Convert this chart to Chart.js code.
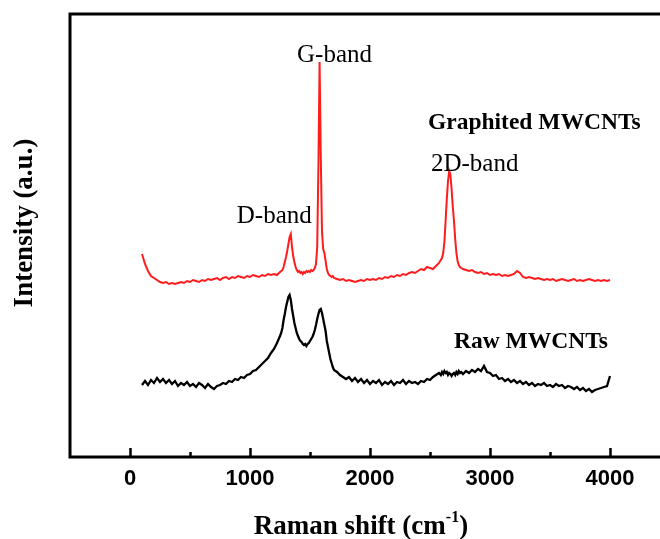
<!DOCTYPE html>
<html>
<head>
<meta charset="utf-8">
<script src="https://cdn.jsdelivr.net/npm/chart.js@4.4.0/dist/chart.umd.min.js"></script>
<style>
  html, body { margin: 0; padding: 0; background: #fff; overflow: hidden; }
  #wrap { width: 680px; height: 539px; }
</style>
</head>
<body>
<div id="wrap"><canvas id="raman" width="680" height="539"></canvas></div>
<script>
// ── Data (Raman shift in cm-1, intensity in arbitrary units) ──
const shift = [
  100,125,150,175,200,225,250,275,300,325,350,375,400,425,450,475,500,525,550,575,600,625,650,675,700,725,750,775,800,825,850,875,900,925,950,975,1000,1025,1050,1075,1100,1125,1150,1175,1200,1225,1250,
  1260,1270,1280,1290,1300,1310,1320,1330,1340,1350,1360,1370,1380,1390,1400,1410,1420,1430,1440,1450,1460,1470,1480,1490,1500,1510,1520,1530,1540,1550,1560,1570,1580,1590,1600,1610,1620,1630,1640,1650,1660,1670,1680,1690,1700,
  1725,1750,1775,1800,1825,1850,1875,1900,1925,1950,1975,2000,2025,2050,2075,2100,2125,2150,2175,2200,2225,2250,2275,2300,2325,2350,2375,2400,2425,2450,2475,2500,2525,2550,2575,
  2590,2600,2610,2620,2630,2640,2650,2660,2670,2680,2690,2700,2710,2720,2730,2740,2750,2760,
  2775,2800,2825,2850,2875,2900,2925,2950,2975,3000,3025,3050,3075,3100,3125,3150,3175,3200,3225,3250,3275,3300,3325,3350,3375,3400,3425,3450,3475,3500,3525,3550,3575,3600,3625,3650,3675,3700,3725,3750,3775,3800,3825,3850,3875,3900,3925,3950,3975,4000
];

const graphited = [
  203,193,186,181,179,177,175,174,175,173, 174,173,174,175,174,176,175,177,176,175, 177,176,178,177,178,179,177,179,180,178, 180,179,181,180,179,181,180,182,181,180, 182,181,183,182,183,182,185,
  186,187,190,195,200,206,213,220,223,210, 201,195,190,187,185,186,184,185,183,185, 184,186,185,186,185,187,186,187,189,193, 210,290,395,300,225,208,204,196,188,184, 182,181,180,181,179,
  178,177,178,176,177,176,175,176,177,176, 178,177,178,177,179,178,180,179,181,180, 182,181,183,182,184,185,184,186,188,187, 190,189,188,191,194,
  197,199,204,215,236,258,276,286,282,268, 250,236,218,204,196,192,190,189,
  188,187,186,187,185,184,185,183,184,182, 183,182,183,181,182,181,182,183,186,184, 180,179,180,179,178,179,178,177,178,177, 178,176,177,178,177,176,177,178,176,177, 176,177,178,177,176,177,176,177,176,177
];

const raw = [
  72,76,72,77,74,79,75,78,74,77, 73,76,71,74,72,75,71,73,70,74, 72,69,73,70,68,71,72,74,73,76, 75,78,77,80,79,82,83,86,87,90, 93,96,99,104,108,114,121,
  124,129,137,143,150,155,160,162,157,148, 141,134,129,124,121,118,116,115,113,112, 113,111,113,114,116,118,120,123,127,132, 138,143,147,148,144,138,132,126,116,110, 104,98,94,90,87,
  85,82,80,78,80,76,79,75,78,74, 77,73,76,74,77,72,75,73,76,72, 75,74,77,73,76,74,75,73,76,75, 78,77,80,82,84,
  82,85,83,86,84,85,82,84,83,81, 83,84,82,85,83,86,84,85,
  83,86,84,87,85,88,86,91,85,84, 81,82,78,79,76,78,75,77,74,76, 73,75,72,74,71,73,72,74,71,72, 70,73,71,72,69,71,70,68,70,67, 69,66,68,65,67,68,69,70,71,81
];

// ── Text labels inside the plot (anchored in data units) ──
const bandLabels  = ['D-band', 'G-band', '2D-band'];
const bandAtX     = [890, 1392, 2508];
const bandAtY     = [234, 395, 286];
const sampleNames = ['Graphited MWCNTs', 'Raw MWCNTs'];
const sampleAtX   = [2483, 2700];
const sampleAtY   = [328, 109];

const SERIF = '"Liberation Serif", "Times New Roman", serif';
const SANS  = '"Liberation Sans", Arial, sans-serif';

function pairs(ys) {
  return shift.map((s, i) => ({ x: s, y: ys[i] }));
}

// ── Frame, inward ticks, titles and labels ──
const decor = {
  id: 'decor',
  afterDraw(chart) {
    const { ctx, chartArea: a } = chart;
    const x = chart.scales.x, y = chart.scales.y;
    ctx.save();
    ctx.strokeStyle = '#000';
    ctx.fillStyle = '#000';

    ctx.lineWidth = 3;
    ctx.strokeRect(a.left, a.top, a.right - a.left, a.bottom - a.top);

    ctx.lineWidth = 2.5;
    x.ticks.forEach(t => {
      if (t.value < 0 || t.value > 4000) return;
      const px = Math.round(x.getPixelForValue(t.value)) + 0.5;
      const len = t.value % 1000 === 0 ? 9 : 5;
      ctx.beginPath();
      ctx.moveTo(px, a.bottom);
      ctx.lineTo(px, a.bottom - len);
      ctx.stroke();
    });

    ctx.textAlign = 'left';
    ctx.textBaseline = 'alphabetic';
    ctx.font = '25px ' + SERIF;
    bandLabels.forEach((txt, i) => {
      ctx.fillText(txt, x.getPixelForValue(bandAtX[i]), y.getPixelForValue(bandAtY[i]));
    });
    ctx.font = 'bold 23.5px ' + SERIF;
    sampleNames.forEach((txt, i) => {
      ctx.fillText(txt, x.getPixelForValue(sampleAtX[i]), y.getPixelForValue(sampleAtY[i]));
    });

    // x title with superscript
    const big = 'bold 27px ' + SERIF, small = 'bold 16px ' + SERIF;
    const p1 = 'Raman shift (cm', p2 = '-1', p3 = ')';
    ctx.font = big;  const w1 = ctx.measureText(p1).width, w3 = ctx.measureText(p3).width;
    ctx.font = small; const w2 = ctx.measureText(p2).width;
    let sx = 361 - (w1 + w2 + w3) / 2;
    const base = 534;
    ctx.font = big;   ctx.fillText(p1, sx, base); sx += w1;
    ctx.font = small; ctx.fillText(p2, sx, base - 12); sx += w2;
    ctx.font = big;   ctx.fillText(p3, sx, base);

    // y title
    ctx.translate(25, 223);
    ctx.rotate(-Math.PI / 2);
    ctx.textAlign = 'center';
    ctx.textBaseline = 'middle';
    ctx.font = big;
    ctx.fillText('Intensity (a.u.)', 0, 0);
    ctx.restore();
  }
};

new Chart(document.getElementById('raman'), {
  type: 'line',
  data: {
    datasets: [
      { label: 'Graphited MWCNTs', data: pairs(graphited), borderColor: '#ff1c1c', borderWidth: 2, pointRadius: 0, tension: 0 },
      { label: 'Raw MWCNTs',       data: pairs(raw),       borderColor: '#000000', borderWidth: 2.3, pointRadius: 0, tension: 0 }
    ]
  },
  options: {
    responsive: false,
    animation: false,
    layout: { padding: { left: 70, top: 14, right: 10, bottom: 0 } },
    plugins: { legend: { display: false }, tooltip: { enabled: false } },
    scales: {
      x: {
        type: 'linear',
        min: -500, max: 4500,
        grid: { display: false, drawTicks: false },
        border: { display: false },
        afterFit: s => { s.height = 82; },
        ticks: {
          stepSize: 500,
          autoSkip: false,
          maxRotation: 0,
          padding: 9,
          color: '#000',
          font: { family: SANS, size: 22, weight: 'bold' },
          callback: v => (v >= 0 && v <= 4000 && v % 1000 === 0) ? String(v) : ''
        }
      },
      y: {
        display: false,
        min: 0, max: 443
      }
    }
  },
  plugins: [decor]
});
</script>
</body>
</html>
